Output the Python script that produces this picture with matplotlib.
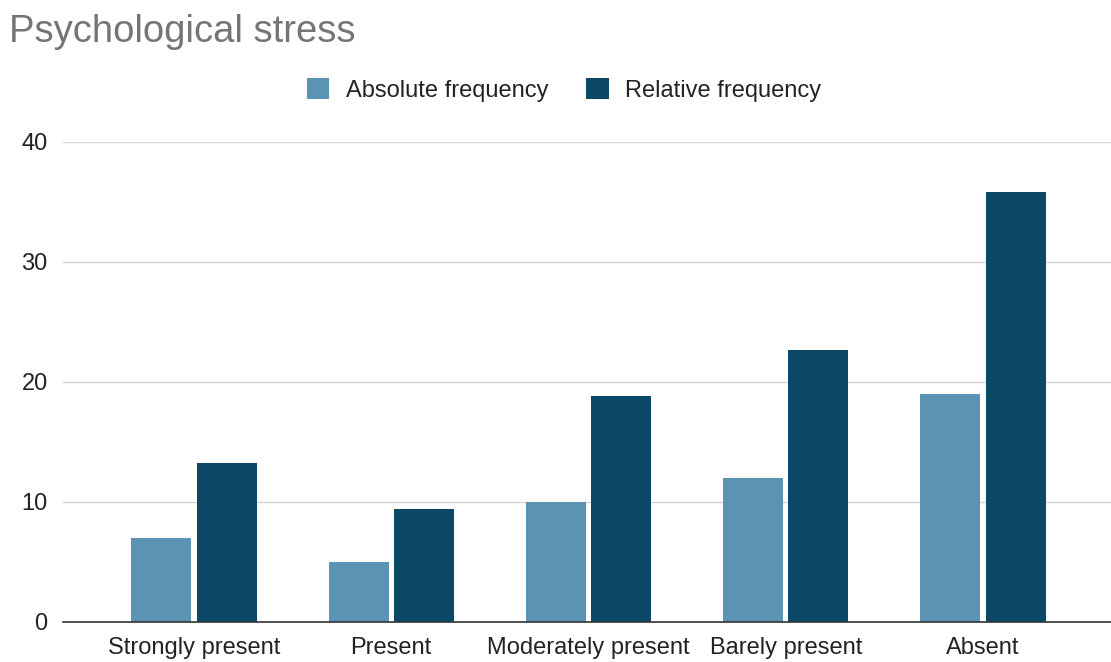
import numpy as np
import matplotlib
matplotlib.use("Agg")
import matplotlib.pyplot as plt

categories = ["Strongly present", "Present", "Moderately present", "Barely present", "Absent"]
absolute_freq = [7, 5, 10, 12, 19]
relative_freq = [13.21, 9.43, 18.87, 22.64, 35.85]
series_names = ["Absolute frequency", "Relative frequency"]
y_ticks = [0, 10, 20, 30, 40]

light = "#5b93b4"
dark = "#0b4867"

plt.rcParams["font.family"] = ["Liberation Sans", "DejaVu Sans"]

fig = plt.figure(figsize=(11.11, 6.62), dpi=100)
ax = fig.add_axes([63 / 1111, 40 / 662, 1 - 63 / 1111, (622 - 142) / 662])

x = np.arange(len(categories))
w = 0.304
off = 0.165
ax.bar(x - off, absolute_freq, w, color=light, label=series_names[0], zorder=3)
ax.bar(x + off, relative_freq, w, color=dark, label=series_names[1], zorder=3)

ax.set_xlim(-0.664, 4.649)
ax.set_ylim(0, 40)
ax.set_yticks(y_ticks)
ax.set_xticks(x)
ax.set_xticklabels(categories)
ax.grid(axis="y", color="#d6d6d6", linewidth=1.0, zorder=0)
for s in ["top", "right", "left"]:
    ax.spines[s].set_visible(False)
ax.spines["bottom"].set_color("#333333")
ax.spines["bottom"].set_linewidth(1.2)
ax.spines["bottom"].set_zorder(4)
ax.tick_params(axis="both", length=0, labelsize=17, colors="#222222")
ax.tick_params(axis="x", pad=11)
ax.tick_params(axis="y", pad=11)

fig.text(9 / 1111, 1 - 32 / 662, "Psychological stress", fontsize=27.5,
         color="#757575", va="center", ha="left")

fig.legend(loc="center", bbox_to_anchor=(564 / 1111, 1 - 90 / 662), ncol=2,
           frameon=False, fontsize=17, handlelength=0.95, handleheight=0.95,
           handletextpad=0.7, columnspacing=1.6, labelcolor="#222222")

fig.savefig("out.png", dpi=100)
